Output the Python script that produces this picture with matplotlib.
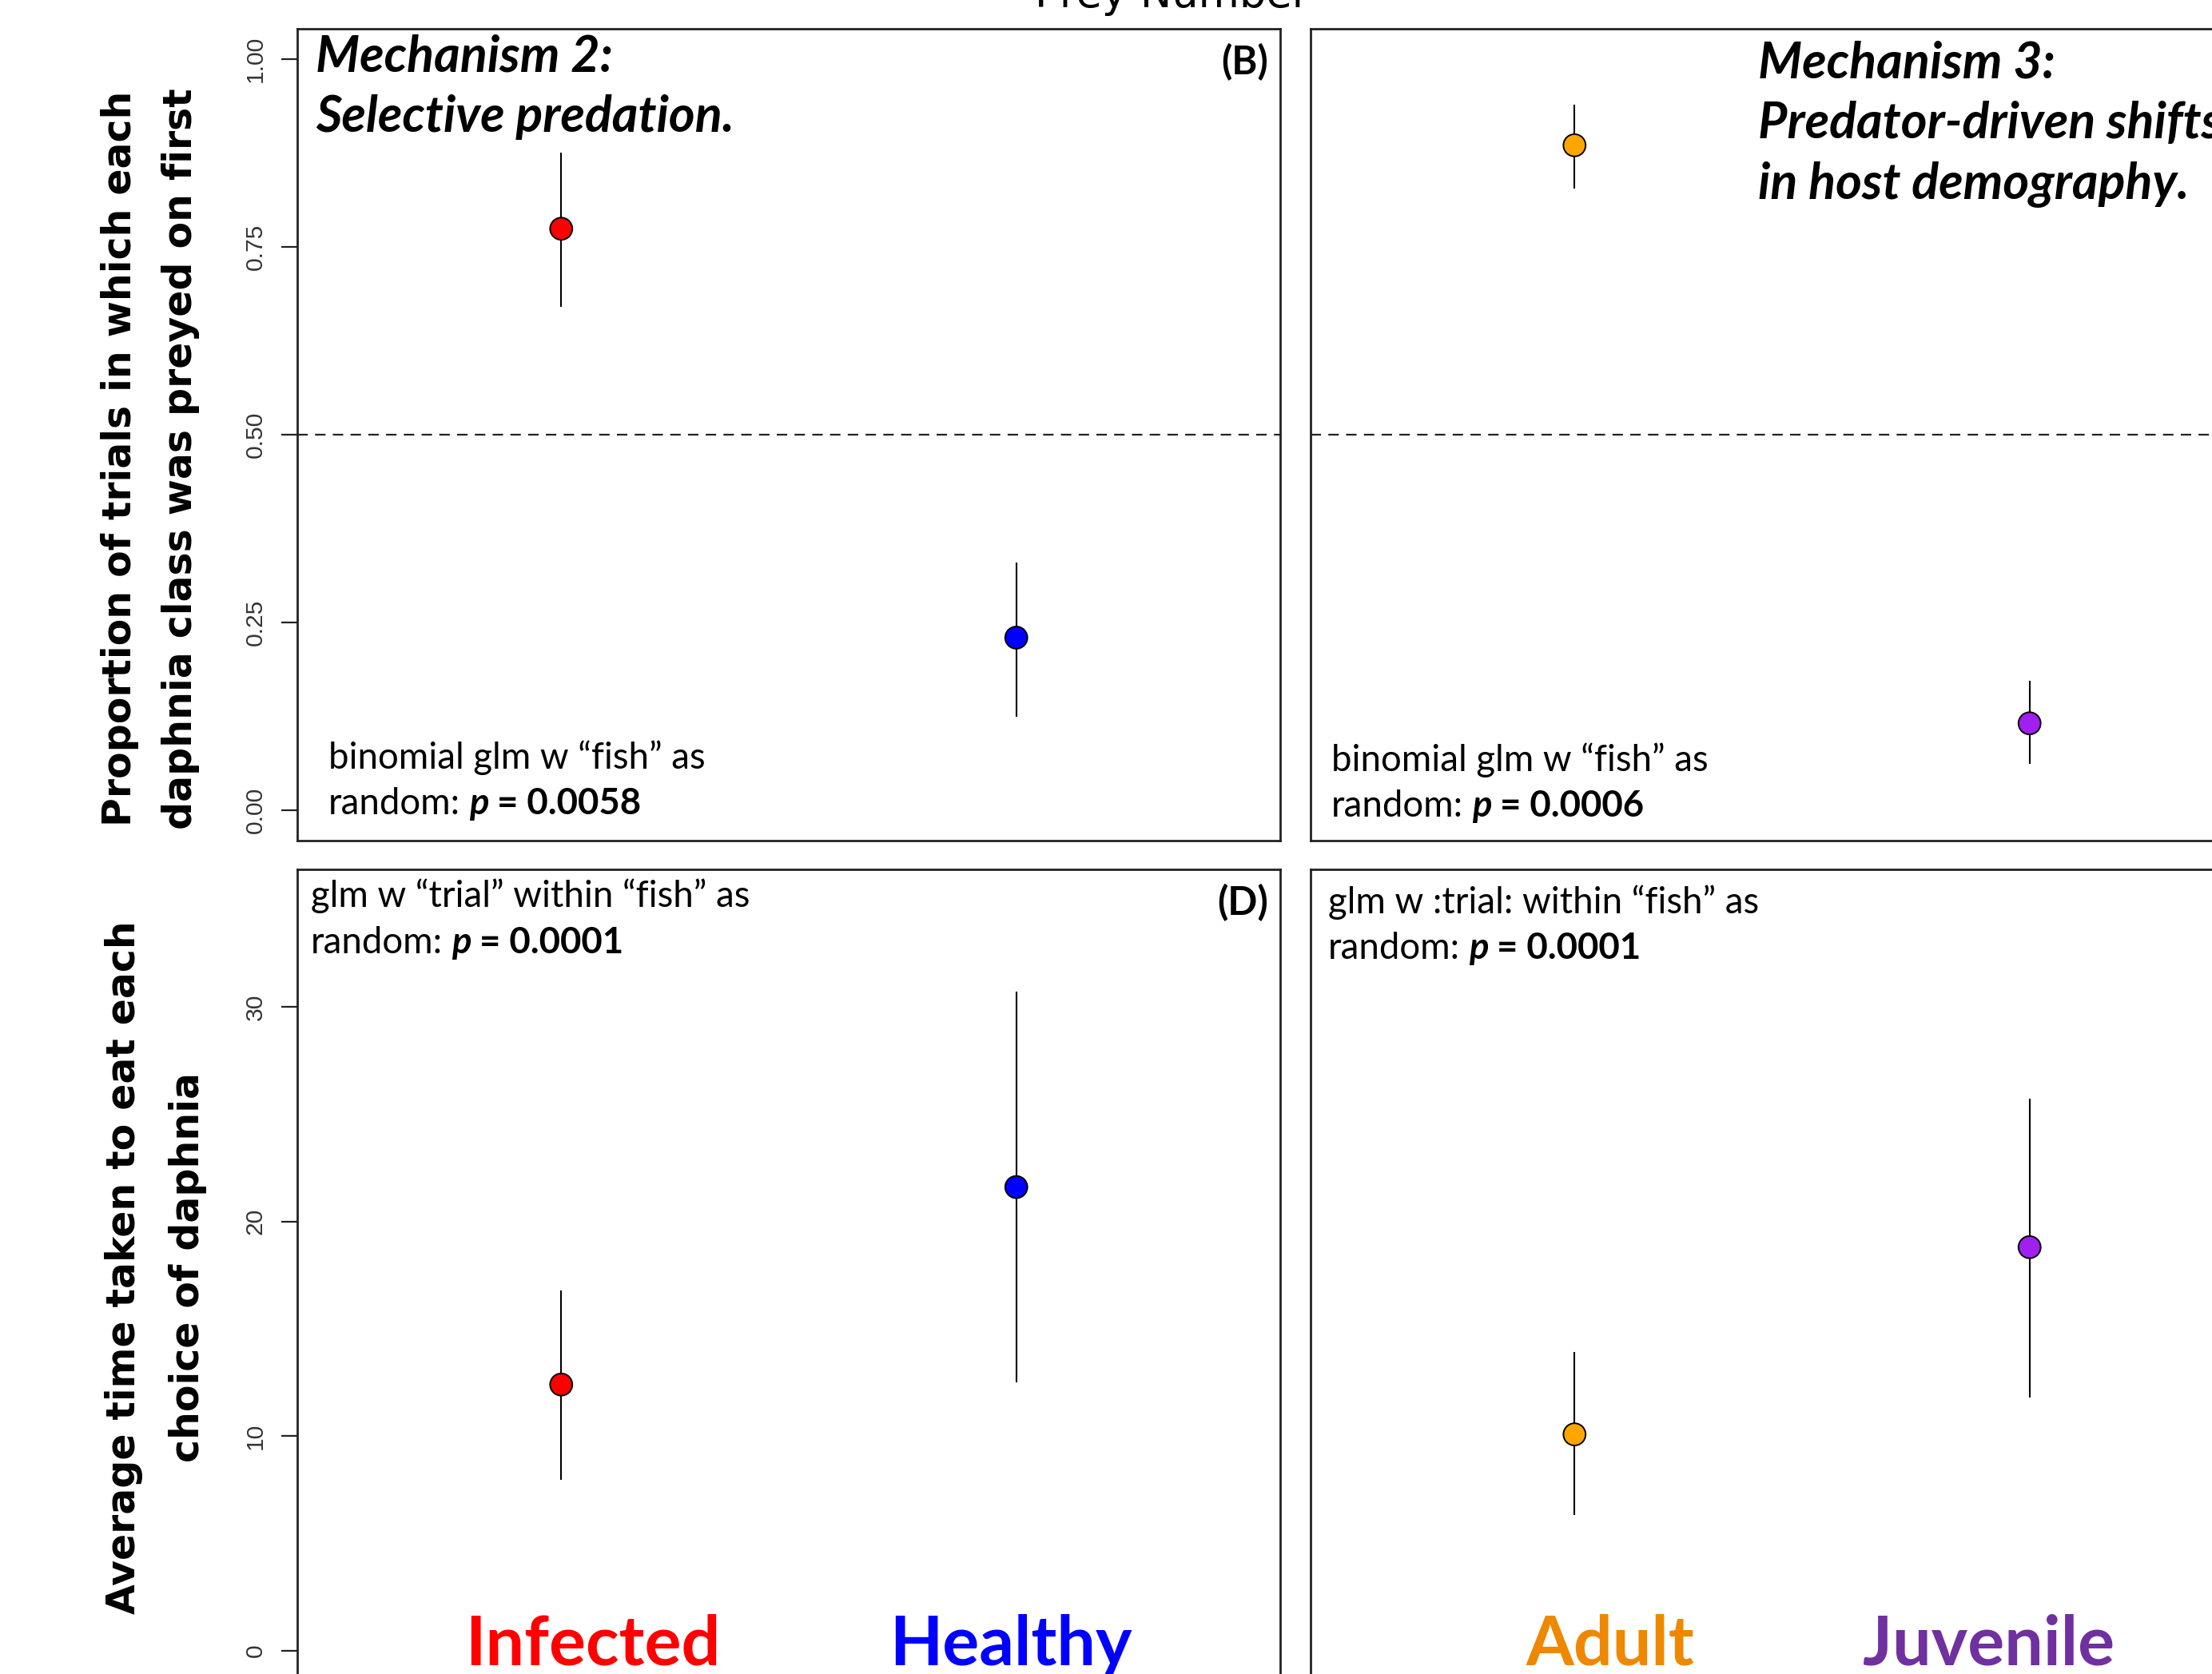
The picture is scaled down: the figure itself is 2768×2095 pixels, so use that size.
import matplotlib
matplotlib.use("Agg")
import matplotlib.pyplot as plt
import numpy as np

# ---------------- data ----------------
prop_cats_B = ["Infected", "Healthy"]
prop_mean_B = [0.774, 0.230]
prop_lo_B = [0.670, 0.125]
prop_hi_B = [0.875, 0.330]

prop_cats_C = ["Adult", "Juvenile"]
prop_mean_C = [0.885, 0.116]
prop_lo_C = [0.827, 0.062]
prop_hi_C = [0.939, 0.173]

time_mean_D = [12.4, 21.6]
time_lo_D = [7.96, 12.5]
time_hi_D = [16.8, 30.7]

time_mean_E = [10.08, 18.8]
time_lo_E = [6.34, 11.8]
time_hi_E = [13.9, 25.7]

marker_colors_left = ["#FF0000", "#0000FF"]
marker_colors_right = ["#FFA500", "#A020F0"]
label_colors_left = ["#FF0000", "#0000FF"]
label_colors_right = ["#EE8800", "#7030A0"]

prop_ticks = [0.0, 0.25, 0.50, 0.75, 1.00]
prop_ticklabels = ["0.00", "0.25", "0.50", "0.75", "1.00"]
time_ticks = [0, 10, 20, 30]
time_ticklabels = ["0", "10", "20", "30"]

# ---------------- layout ----------------
W, H = 2768, 2095
DPI = 200
plt.rcParams["lines.scale_dashes"] = False
fig = plt.figure(figsize=(W / DPI, H / DPI), dpi=DPI)


def fx(x):
    return x / W


def fy(y):
    return 1 - y / H


def make_ax(x0, x1, ytop, ybot):
    return fig.add_axes([fx(x0), fy(ybot), (x1 - x0) / W, (ybot - ytop) / H])


axB = make_ax(372, 1602, 36, 1052)
axC = make_ax(1640, 2870, 36, 1052)
axD = make_ax(372, 1602, 1088, 2103.5)
axE = make_ax(1640, 2870, 1088, 2103.5)

xpos = np.array([1, 2])


def draw_panel(ax, mean, lo, hi, colors, ylim, ticks=None, ticklabels=None, dashed=False):
    ax.set_xlim(0.42, 2.58)
    ax.set_ylim(*ylim)
    for s in ax.spines.values():
        s.set_linewidth(1.0)
        s.set_color("#222222")
    if dashed:
        ax.axhline(0.5, color="#222222", lw=0.8, dashes=(4.7, 3.3), zorder=1)
    ax.vlines(xpos, lo, hi, color="black", lw=0.75, zorder=2)
    ax.scatter(xpos, mean, s=100, c=colors, edgecolors="black", linewidths=0.7, zorder=3)
    ax.set_xticks([])
    if ticks is not None:
        ax.set_yticks(ticks)
        ax.set_yticklabels(ticklabels, family="Liberation Sans", fontsize=10.8, color="#333333")
        ax.tick_params(axis="y", length=7.2, width=0.8, pad=6.5, labelrotation=90, color="#222222")
        for lab in ax.get_yticklabels():
            lab.set_va("center")
    else:
        ax.set_yticks([])


draw_panel(axB, prop_mean_B, prop_lo_B, prop_hi_B, marker_colors_left, (-0.04, 1.04),
           prop_ticks, prop_ticklabels, dashed=True)
draw_panel(axC, prop_mean_C, prop_lo_C, prop_hi_C, marker_colors_right, (-0.04, 1.04), dashed=True)
draw_panel(axD, time_mean_D, time_lo_D, time_hi_D, marker_colors_left, (-1.4, 36.4),
           time_ticks, time_ticklabels)
draw_panel(axE, time_mean_E, time_lo_E, time_hi_E, marker_colors_right, (-1.4, 36.4))

# ---------------- texts ----------------
renderer = fig.canvas.get_renderer()
FONT = "Lato"


def rich_line(x_px, y_px, parts, size):
    x = x_px
    gap = 0.23 * size * DPI / 72
    for s, weight, style in parts:
        t = fig.text(fx(x), fy(y_px), s, fontsize=size, fontweight=weight,
                     fontstyle=style, family=FONT, va="baseline", ha="left", color="black")
        bb = t.get_window_extent(renderer)
        x += bb.width + gap


# Y labels
ylab_kw = dict(rotation=90, ha="center", va="center", fontsize=17.6,
               fontweight="bold", family="DejaVu Sans")
fig.text(fx(150), fy(574), "Proportion of trials in which each", **ylab_kw)
fig.text(fx(226), fy(574), "daphnia class was preyed on first", **ylab_kw)
fig.text(fx(155), fy(1586), "Average time taken to eat each", **ylab_kw)
fig.text(fx(235), fy(1586), "choice of daphnia", **ylab_kw)

# cut-off top title (partly outside the figure, as in the reference)
fig.text(fx(1467), fy(9), "Prey Number", ha="center", va="baseline", fontsize=19,
         family="DejaVu Sans")

# Mechanism headings
mech_kw = dict(fontsize=22.6, fontweight="bold", fontstyle="italic", family=FONT,
               va="baseline", ha="left")
fig.text(fx(395), fy(89), "Mechanism 2:", **mech_kw)
fig.text(fx(395), fy(165), "Selective predation.", **mech_kw)
fig.text(fx(2200), fy(97), "Mechanism 3:", **mech_kw)
fig.text(fx(2200), fy(173), "Predator-driven shifts", **mech_kw)
fig.text(fx(2200), fy(249), "in host demography.", **mech_kw)

# panel letters
let_kw = dict(fontsize=17.5, fontweight="bold", family=FONT, va="baseline", ha="right")
fig.text(fx(1587), fy(93), "(B)", **let_kw)
fig.text(fx(1587), fy(1145), "(D)", **let_kw)

# statistics annotations
ANN = 16.4
rich_line(411, 962, [("binomial glm w \u201cfish\u201d as", "normal", "normal")], ANN)
rich_line(411, 1019, [("random:", "normal", "normal"), ("p", "bold", "italic"),
                      ("= 0.0058", "bold", "normal")], ANN)
rich_line(1666, 965, [("binomial glm w \u201cfish\u201d as", "normal", "normal")], ANN)
rich_line(1666, 1022, [("random:", "normal", "normal"), ("p", "bold", "italic"),
                       ("= 0.0006", "bold", "normal")], ANN)
rich_line(389, 1135, [("glm w \u201ctrial\u201d within \u201cfish\u201d as", "normal", "normal")], ANN)
rich_line(389, 1193, [("random:", "normal", "normal"), ("p", "bold", "italic"),
                      ("= 0.0001", "bold", "normal")], ANN)
rich_line(1662, 1143, [("glm w :trial: within \u201cfish\u201d as", "normal", "normal")], ANN)
rich_line(1662, 1200, [("random:", "normal", "normal"), ("p", "bold", "italic"),
                       ("= 0.0001", "bold", "normal")], ANN)

# category labels
cat_kw = dict(fontsize=31, fontweight="bold", family=FONT, va="baseline", ha="center")
cat_x = [742, 1265, 2015, 2489]
all_cats = prop_cats_B + prop_cats_C
all_cols = label_colors_left + label_colors_right
for cx, name, col in zip(cat_x, all_cats, all_cols):
    fig.text(fx(cx), fy(2084), name, color=col, **cat_kw)

fig.savefig("out.png", dpi=DPI)
